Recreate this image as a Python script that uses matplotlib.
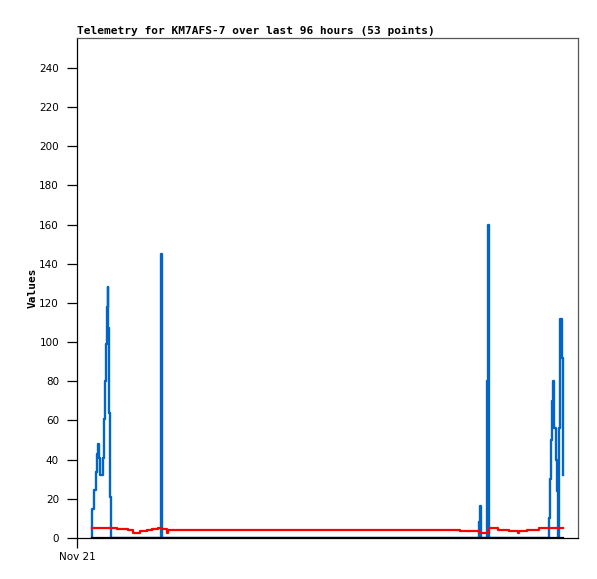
import numpy as np
import matplotlib
matplotlib.use('Agg')
import matplotlib.pyplot as plt

# hours since start of Nov 21 (stepped series)
blue_t = [3.08, 3.12, 3.53, 3.81, 4.02, 4.22, 4.42, 4.60, 5.30, 5.50, 5.71, 5.91, 6.11, 6.26, 6.38, 6.52, 6.73, 6.87,
          17.12, 17.30,
          82.00, 82.20, 82.40, 83.50, 83.70, 83.90,
          96.27, 96.47, 96.68, 96.88, 97.09, 97.29, 97.58, 97.78, 97.98, 98.19, 98.31, 98.51, 98.80, 99.00, 99.06]
blue_v = [0, 15, 24.5, 33.5, 43, 48, 41, 32, 41, 61, 80, 99, 118, 128, 107, 64, 21, 0,
          145, 0,
          8.3, 16.3, 0, 80, 160, 0,
          10, 30, 50, 70, 80, 56, 40, 24, 0, 24, 56, 112, 92, 52, 32]

red_t = [3.12, 8.1, 10.4, 11.4, 12.8, 14.2, 15.2, 16.5, 17.4, 18.3, 18.5, 78.0, 82.0, 83.0, 84.0, 85.7, 88.0,
         89.8, 90.0, 91.7, 94.1, 99.06]
red_v = [4.9, 4.6, 4.3, 2.7, 3.6, 4.1, 4.6, 5.1, 4.6, 2.7, 4.3, 3.7, 2.7, 2.7, 4.9, 4.3, 3.7,
         2.6, 3.7, 4.3, 4.9, 4.9]

black_t = [3.12, 99.06]
black_v = [0, 0]

yticks = list(range(0, 241, 20))

fig = plt.figure(figsize=(5.97, 5.79), dpi=100)
ax = fig.add_axes([77/597, 41/579, 501/597, 500/579])

ax.plot(blue_t, blue_v, color='#0066cc', lw=1.7, drawstyle='steps-post', zorder=2)
ax.plot(red_t, red_v, color='#ff0000', lw=1.6, drawstyle='steps-post', zorder=3)
ax.plot(black_t, black_v, color='black', lw=1.6, zorder=4)

ax.set_xlim(0, 102.1)
ax.set_ylim(0, 255.3)
ax.set_yticks(yticks)
ax.set_yticklabels([str(v) for v in yticks], fontsize=7.5, family='DejaVu Sans')
ax.set_xticks([0])
ax.set_xticklabels(['Nov 21'], fontsize=7.5, family='DejaVu Sans')
ax.tick_params(axis='y', length=7, width=0.9, pad=6)
ax.tick_params(axis='x', length=7, width=0.9, pad=3)

ax.spines['left'].set_color('black')
ax.spines['bottom'].set_color('black')
ax.spines['top'].set_color('#555555')
ax.spines['right'].set_color('#555555')
for s in ax.spines.values():
    s.set_linewidth(0.9)

ax.set_title('Telemetry for KM7AFS-7 over last 96 hours (53 points)', loc='left',
             fontsize=8, family='DejaVu Sans Mono', fontweight='bold', pad=3)
ax.set_ylabel('Values', fontsize=8, family='DejaVu Sans Mono', fontweight='bold', labelpad=1)

fig.savefig('out.png', dpi=100)
